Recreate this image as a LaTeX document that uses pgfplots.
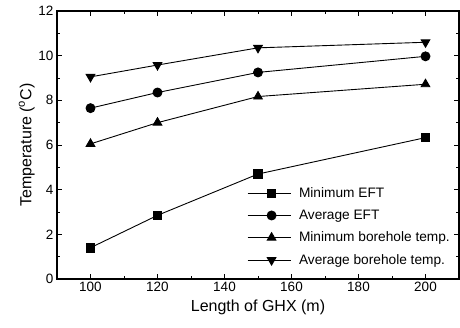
\documentclass[border=0pt]{standalone}
\usepackage{fontspec}
\setmainfont{Liberation Sans}
\usepackage{pgfplots}
\pgfplotsset{compat=1.18}
\begin{document}
\begin{tikzpicture}
\begin{axis}[
  scale only axis,
  width=402pt, height=268pt,
  xmin=90, xmax=210, ymin=0, ymax=12,
  xtick={100,120,...,200},
  ytick={0,2,...,12},
  minor x tick num=1,
  minor y tick num=1,
  tick align=inside,
  major tick length=5pt, minor tick length=3pt,
  axis line style={line width=1.2pt},
  every tick/.style={black, line width=0.8pt},
  /pgf/number format/assume math mode=true,
  tick label style={font=\fontsize{13.5}{16}\selectfont},
  label style={font=\fontsize{16}{18}\selectfont},
  xlabel={Length of GHX (m)},
  ylabel={Temperature (\textsuperscript{o}C)},
  xlabel style={yshift=-1pt},
  ylabel style={yshift=-3pt},
  legend style={at={(1,0)}, anchor=south east, draw=none, fill=none,
    font=\fontsize{13.7}{16}\selectfont, row sep=7pt, xshift=-4pt, yshift=9pt},
  legend cell align=left,
  legend image code/.code={
    \draw[mark repeat=2, mark phase=2, #1] plot coordinates {(0pt,0pt) (24pt,0pt) (43pt,0pt)};
    \path (49pt,0pt);},
]
\addplot[black, line width=0.9pt, mark=square*, mark size=4.3pt] coordinates {(100,1.4) (120,2.85) (150,4.7) (200,6.33)};
\addlegendentry{Minimum EFT}
\addplot[black, line width=0.9pt, mark=*, mark size=4.5pt] coordinates {(100,7.65) (120,8.35) (150,9.25) (200,9.97)};
\addlegendentry{Average EFT}
\addplot[black, line width=0.9pt, mark=triangle*, mark size=5pt] coordinates {(100,6.05) (120,7.0) (150,8.17) (200,8.72)};
\addlegendentry{Minimum borehole temp.}
\addplot[black, line width=0.9pt, mark=triangle*, mark options={rotate=180}, mark size=5pt] coordinates {(100,9.05) (120,9.58) (150,10.35) (200,10.6)};
\addlegendentry{Average borehole temp.}
\coordinate (ll) at (rel axis cs:0,0);
\coordinate (ur) at (rel axis cs:1,1);
\end{axis}
\pgfresetboundingbox
\path ([shift={(-57pt,-49pt)}]ll) rectangle ([shift={(1pt,11pt)}]ur);
\end{tikzpicture}
\end{document}
